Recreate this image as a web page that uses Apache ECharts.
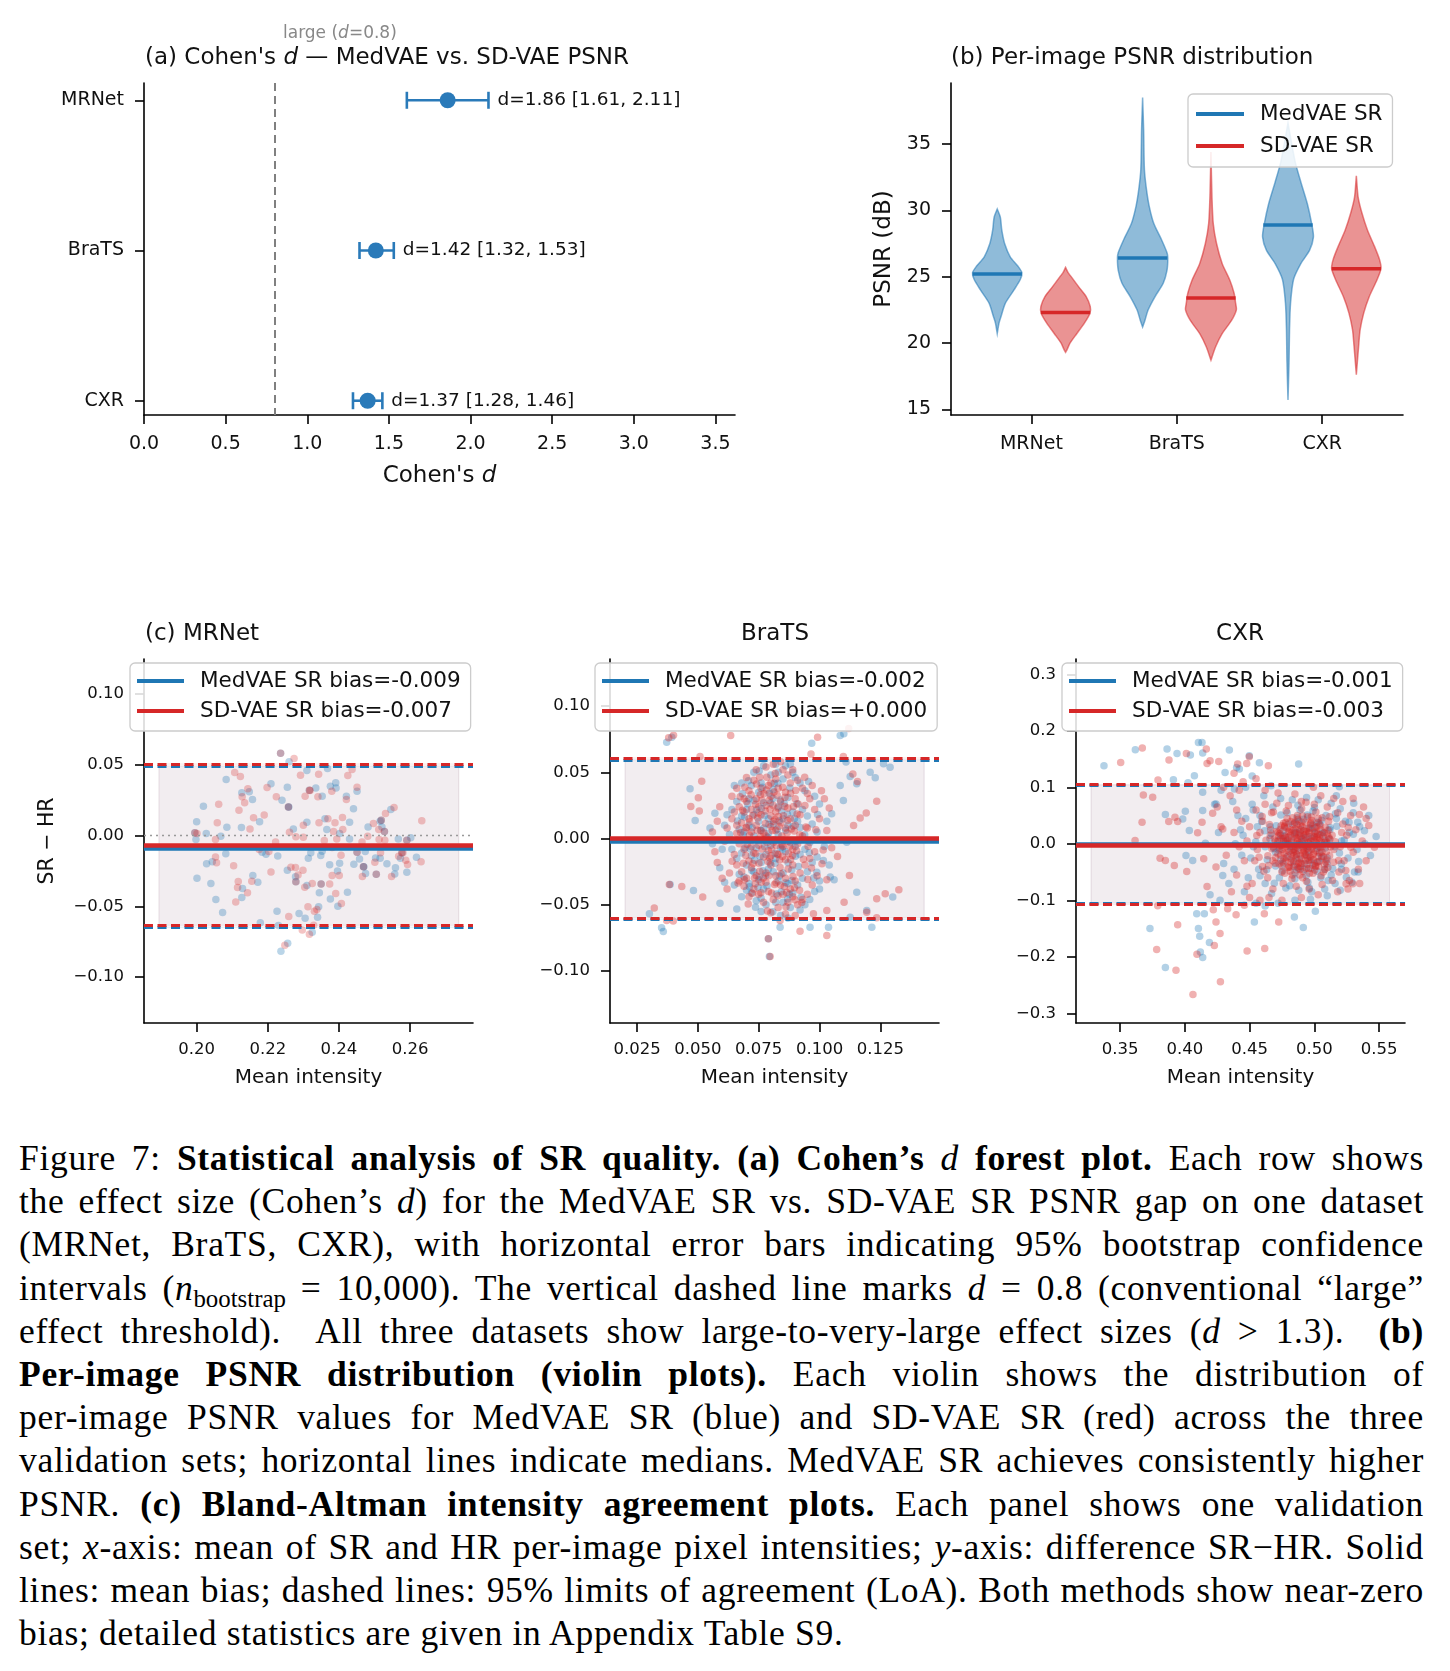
<!DOCTYPE html>
<html>
<head>
<meta charset="utf-8">
<script src="https://cdn.jsdelivr.net/npm/echarts@6/dist/echarts.min.js"></script>
<style>
  html, body { margin: 0; padding: 0; background: #fff; overflow: hidden; }
  #chart { position: absolute; left: 0; top: 0; width: 1450px; height: 1120px; }
  #caption { position: absolute; left: 19px; top: 1137px; width: 1405px;
    font-family: 'Liberation Serif', 'DejaVu Serif', serif; font-size: 35.5px; letter-spacing: 0.7px;
    line-height: 43.2px; color: #000; }
  #caption div { text-align: justify; text-align-last: justify; height: 43.2px; white-space: nowrap; }
  #caption div.last { text-align-last: left; }
  #caption sub { font-size: 0.7em; line-height: 0; vertical-align: -0.3em; letter-spacing: 0; }
</style>
</head>
<body>
<div id="chart"></div>
<div id="caption">
<div>Figure 7: <b>Statistical analysis of SR quality.</b> <b>(a) Cohen’s</b> <i>d</i> <b>forest plot.</b> Each row shows</div>
<div>the effect size (Cohen’s <i>d</i>) for the MedVAE SR vs. SD-VAE SR PSNR gap on one dataset</div>
<div>(MRNet, BraTS, CXR), with horizontal error bars indicating 95% bootstrap confidence</div>
<div>intervals (<i>n</i><sub>bootstrap</sub> = 10,000). The vertical dashed line marks <i>d</i> = 0.8 (conventional “large”</div>
<div>effect threshold). &nbsp;All three datasets show large-to-very-large effect sizes (<i>d</i> &gt; 1.3). &nbsp;<b>(b)</b></div>
<div><b>Per-image PSNR distribution (violin plots).</b> Each violin shows the distribution of</div>
<div>per-image PSNR values for MedVAE SR (blue) and SD-VAE SR (red) across the three</div>
<div>validation sets; horizontal lines indicate medians. MedVAE SR achieves consistently higher</div>
<div>PSNR. <b>(c) Bland-Altman intensity agreement plots.</b> Each panel shows one validation</div>
<div>set; <i>x</i>-axis: mean of SR and HR per-image pixel intensities; <i>y</i>-axis: difference SR−HR. Solid</div>
<div>lines: mean bias; dashed lines: 95% limits of agreement (LoA). Both methods show near-zero</div>
<div class="last">bias; detailed statistics are given in Appendix Table S9.</div>
</div>
<script>
var FONT = 'DejaVu Sans';
var BLUE = '#1f77b4', RED = '#d62728';

var datasets = ['MRNet', 'BraTS', 'CXR'];

// (a) Cohen's d forest plot
var cohenD  = [1.86, 1.42, 1.37];
var cohenLo = [1.61, 1.32, 1.28];
var cohenHi = [2.11, 1.53, 1.46];
var largeD = 0.8;
var cohenTicks = [0, 0.5, 1, 1.5, 2, 2.5, 3, 3.5];

// (b) violin profiles: [PSNR, relative density]
var psnrTicks = [15, 20, 25, 30, 35];
var medvaeMedian = [25.2, 26.4, 28.9];
var sdvaeMedian  = [22.3, 23.4, 25.6];
var medvaeViolin = [
  [[30.1,0],[29.5,0.12],[28.5,0.18],[27.5,0.29],[26.5,0.51],[25.8,0.81],[25.3,0.97],[24.8,0.91],[24.0,0.66],[23.0,0.32],[22.0,0.15],[21.5,0.07],[20.7,0]],
  [[38.5,0],[36.1,0.04],[33.1,0.07],[31.6,0.15],[30.3,0.26],[29.0,0.44],[27.8,0.74],[26.8,0.96],[26.4,0.99],[25.5,0.96],[24.5,0.81],[23.5,0.49],[22.5,0.22],[21.7,0.09],[21.2,0]],
  [[36.6,0],[35.3,0.12],[33.6,0.29],[32.1,0.51],[30.5,0.76],[29.0,0.93],[28.0,1.0],[27.0,0.85],[26.0,0.51],[24.8,0.22],[23.0,0.1],[21.0,0.06],[18.5,0.04],[15.7,0]]
];
var sdvaeViolin = [
  [[25.7,0],[25.3,0.1],[25.0,0.22],[24.25,0.51],[23.5,0.81],[22.75,0.97],[22.25,0.96],[21.5,0.74],[20.7,0.44],[20.0,0.18],[19.5,0.06],[19.3,0]],
  [[34.4,0],[31.0,0.04],[29.0,0.09],[27.5,0.22],[26.0,0.44],[24.75,0.74],[23.75,0.91],[23.0,0.97],[22.5,1.0],[21.7,0.81],[20.7,0.44],[19.7,0.18],[18.7,0]],
  [[32.6,0],[31.0,0.07],[29.8,0.22],[28.5,0.44],[27.3,0.71],[26.3,0.91],[25.6,0.97],[24.75,0.81],[23.5,0.51],[22.25,0.29],[21.0,0.15],[19.75,0.09],[17.6,0]]
];

// (c) Bland-Altman
var baTitles = ['(c) MRNet', 'BraTS', 'CXR'];
var baXTicks = [[0.20,0.22,0.24,0.26],[0.025,0.05,0.075,0.1,0.125],[0.35,0.4,0.45,0.5,0.55]];
var baYTicks = [[-0.1,-0.05,0,0.05,0.1],[-0.1,-0.05,0,0.05,0.1],[-0.3,-0.2,-0.1,0,0.1,0.2,0.3]];
var biasMed = [-0.009, -0.002, -0.001];
var biasSd  = [-0.007, 0.000, -0.003];
var loaMed = [[-0.065,0.049],[-0.0611,0.0594],[-0.1048,0.104]];
var loaSd  = [[-0.0634,0.0507],[-0.0598,0.0609],[-0.1077,0.1047]];
var bandX  = [[0.1894,0.2737],[0.0201,0.143],[0.3276,0.558]];

var mrnetMed = [
[0.2083,0.0396],[0.2019,0.0208],[0.2000,0.0097],[0.2027,0.0014],[0.1998,-0.0028],[0.2068,-0.0005],[0.2085,0.0059],[0.2127,0.0302],[0.2148,0.0309],[0.2157,0.0255],
[0.2126,0.0057],[0.2177,0.0097],[0.2209,0.0366],[0.2255,0.0342],[0.2240,0.0250],[0.2259,0.0201],[0.2272,0.0047],[0.2310,0.0460],[0.2310,0.0094],[0.2335,0.0337],
[0.2353,0.0278],[0.2368,0.0474],[0.2376,0.0349],[0.2391,0.0373],[0.2392,0.0337],[0.2421,0.0278],[0.2451,0.0314],[0.2441,0.0189],[0.2361,0.0118],[0.2366,0.0042],
[0.2402,0.0014],[0.2430,0.0094],[0.2430,-0.0024],[0.2482,0.0061],[0.2516,0.0101],[0.2521,0.0061],[0.2546,0.0184],[0.2567,-0.0024],[0.2602,-0.0016],[0.2535,-0.0200],
[0.2559,-0.0228],[0.2557,-0.0271],[0.2591,-0.0259],[0.2618,-0.0153],[0.2573,-0.0160],[0.2516,-0.0160],[0.2503,-0.0158],[0.2470,-0.0221],[0.2475,-0.0269],[0.2458,-0.0165],
[0.2442,-0.0203],[0.2474,-0.0113],[0.2402,-0.0195],[0.2374,-0.0207],[0.2396,-0.0250],[0.2321,-0.0122],[0.2314,-0.0160],[0.2349,-0.0141],[0.2353,-0.0111],[0.2228,-0.0144],
[0.2195,-0.0132],[0.2184,-0.0118],[0.2082,-0.0129],[0.2028,-0.0200],[0.2044,-0.0186],[0.2001,-0.0302],[0.2040,-0.0339],[0.2054,-0.0452],[0.2073,-0.0544],[0.2129,-0.0375],
[0.2127,-0.0438],[0.2158,-0.0283],[0.2172,-0.0330],[0.2226,-0.0535],[0.2255,-0.0245],[0.2278,-0.0292],[0.2310,-0.0353],[0.2345,-0.0405],[0.2343,-0.0504],[0.2340,-0.0577],
[0.2305,-0.0584],[0.2288,-0.0551],[0.2376,-0.0448],[0.2397,-0.0500],[0.2424,-0.0401],[0.2179,-0.0617],[0.2230,-0.0636],[0.2325,-0.0683],[0.2256,-0.0761],[0.2237,-0.0818],
[0.2260,0.0521]
];
var mrnetSd = [
[0.2107,0.0446],[0.2123,0.0417],[0.2062,0.0222],[0.2058,0.0090],[0.2128,0.0274],[0.2135,0.0231],[0.2144,0.0330],[0.2119,0.0179],[0.2160,0.0125],[0.2150,0.0047],
[0.2190,0.0146],[0.2198,0.0340],[0.2224,0.0274],[0.2274,0.0545],[0.2292,0.0427],[0.2305,0.0278],[0.2343,0.0434],[0.2341,0.0274],[0.2319,0.0318],[0.2344,0.0090],
[0.2300,0.0073],[0.2300,-0.0012],[0.2261,0.0024],[0.2279,-0.0009],[0.2369,0.0118],[0.2389,0.0090],[0.2410,0.0127],[0.2380,0.0314],[0.2421,0.0255],[0.2437,0.0467],
[0.2425,0.0424],[0.2451,0.0342],[0.2385,0.0028],[0.2411,0.0042],[0.2394,-0.0024],[0.2359,-0.0035],[0.2381,-0.0085],[0.2465,-0.0045],[0.2481,-0.0005],[0.2497,0.0085],
[0.2512,0.0042],[0.2531,0.0156],[0.2555,0.0198],[0.2529,-0.0033],[0.2513,-0.0028],[0.2633,0.0104],[0.2631,-0.0186],[0.2593,-0.0205],[0.2588,-0.0174],[0.2568,-0.0146],
[0.2580,-0.0122],[0.2517,-0.0122],[0.2501,-0.0188],[0.2466,-0.0290],[0.2548,-0.0290],[0.2381,-0.0283],[0.2401,-0.0283],[0.2406,-0.0139],[0.2391,-0.0410],[0.2407,-0.0481],
[0.2374,-0.0342],[0.2325,-0.0339],[0.2304,-0.0365],[0.2285,-0.0278],[0.2299,-0.0245],[0.2278,-0.0226],[0.2265,-0.0224],[0.2209,-0.0257],[0.2203,-0.0113],[0.2176,-0.0099],
[0.2222,-0.0045],[0.2104,-0.0214],[0.2053,-0.0151],[0.2056,-0.0193],[0.2053,-0.0028],[0.2001,0.0014],[0.2117,-0.0325],[0.2115,-0.0368],[0.2143,-0.0405],[0.2110,-0.0469],
[0.2155,-0.0323],[0.2259,-0.0573],[0.2313,-0.0504],[0.2331,-0.0535],[0.2338,-0.0523],[0.2329,-0.0634],[0.2297,-0.0667],[0.2317,-0.0697],[0.2248,-0.0775]
];
// points where both methods overlap (purple in the reference)
var mrnetBoth = [[0.1995,0.0019],[0.2317,0.0321],[0.2258,0.0201],[0.2279,-0.0327],[0.2350,-0.0342],[0.2519,0.0109],[0.2528,0.0028],
  [0.2451,-0.0118],[0.2469,-0.0221],[0.2505,-0.0273],[0.2591,-0.0033],[0.2577,-0.0122],[0.2236,0.0582]];

var bratsMed = [
[0.0372,0.0727],[0.0393,0.0765],[0.0968,0.0720],[0.1085,0.0778],[0.0468,0.0375],[0.0489,0.0136],[0.0301,-0.0568],[0.0351,-0.0674],[0.0358,-0.0701],[0.0386,-0.0347],
[0.0482,-0.0392],[0.1126,0.0468],[0.1153,0.0413],[0.1208,0.0501],[0.1229,0.0458],[0.1263,0.0564],[0.1290,0.0539],[0.1153,-0.0405],[0.1215,-0.0669],[0.1194,-0.0543],
[0.1301,-0.0442],[0.0794,-0.0890],[0.0790,-0.0757],[0.0838,-0.0669],[0.0961,-0.0669],[0.1037,-0.0669],[0.1126,-0.0593],[0.0660,-0.0531],[0.0591,-0.0488],[0.1098,0.0287],
[0.1109,0.0577],[0.1085,0.0400],[0.1050,0.0187],[0.1112,-0.0027],[0.1016,-0.0166],[0.0989,-0.0254],[0.1044,-0.0291],[0.1000,-0.0380],[0.1100,0.0790],
[0.0710,0.0300],[0.0730,0.0180],[0.0750,0.0350],[0.0770,0.0270],[0.0790,0.0150],[0.0810,0.0370],[0.0830,0.0240],[0.0850,0.0450],[0.0870,0.0310],[0.0890,0.0500],
[0.0860,0.0550],[0.0830,0.0500],[0.0800,0.0480],[0.0760,0.0420],[0.0720,0.0400],[0.0700,0.0220],[0.0680,0.0170],[0.0660,0.0280],[0.0640,0.0220],[0.0620,0.0180],
[0.0630,0.0030],[0.0670,0.0070],[0.0690,0.0050],[0.0710,0.0100],[0.0730,0.0020],[0.0750,0.0130],[0.0770,0.0080],[0.0790,0.0040],[0.0810,0.0110],[0.0830,0.0030],
[0.0850,0.0150],[0.0870,0.0100],[0.0890,0.0200],[0.0910,0.0130],[0.0930,0.0220],[0.0950,0.0170],[0.0970,0.0110],[0.0990,0.0050],[0.0960,-0.0030],[0.0940,-0.0080],
[0.0920,-0.0120],[0.0900,-0.0060],[0.0880,-0.0030],[0.0860,-0.0100],[0.0840,-0.0070],[0.0820,-0.0150],[0.0800,-0.0050],[0.0780,-0.0120],[0.0760,-0.0180],[0.0740,-0.0070],
[0.0720,-0.0130],[0.0700,-0.0200],[0.0680,-0.0110],[0.0660,-0.0150],[0.0640,-0.0080],[0.0670,-0.0270],[0.0690,-0.0290],[0.0710,-0.0340],[0.0730,-0.0250],[0.0750,-0.0310],
[0.0770,-0.0380],[0.0790,-0.0230],[0.0810,-0.0250],[0.0830,-0.0320],[0.0850,-0.0260],[0.0870,-0.0340],[0.0890,-0.0410],[0.0910,-0.0350],[0.0930,-0.0300],[0.0950,-0.0250],
[0.0970,-0.0180],[0.0990,-0.0140],[0.1000,-0.0320],[0.0980,-0.0400],[0.0960,-0.0460],[0.0940,-0.0500],[0.0920,-0.0540],[0.0880,-0.0520],[0.0850,-0.0480],[0.0820,-0.0480],
[0.0780,-0.0500],[0.0760,-0.0450],[0.0740,-0.0470],[0.0720,-0.0410],[0.0700,-0.0390],[0.0680,-0.0440],[0.0650,-0.0350],[0.0610,0.0100],[0.0600,-0.0080],[0.0650,0.0400],
[0.0680,0.0420],[0.0730,0.0500],[0.0770,0.0550],[0.0820,0.0560],[0.0880,0.0560],[0.0900,0.0460],[0.0920,0.0420],[0.0940,0.0360],[0.0980,0.0320],[0.1000,0.0260],
[0.1030,0.0130],[0.1020,-0.0060],[0.1040,-0.0200],[0.1060,-0.0310],[0.0840,-0.0580],[0.0870,-0.0600],[0.0760,-0.0550],[0.0550,0.0080],[0.0560,-0.0040],[0.0570,0.0190],
[0.0590,-0.0220],[0.0610,-0.0330],
[0.0723,0.0082],[0.0761,0.0227],[0.0798,0.0268],[0.0834,0.0132],[0.0868,0.0183],[0.0903,-0.0018],[0.0939,0.0029],[0.0722,-0.0241],[0.0779,-0.0279],[0.0843,-0.0402],
[0.0886,-0.0238],[0.0924,-0.0443],[0.0683,0.0339],[0.0752,0.0509],[0.0814,0.0417],[0.0878,0.0381],[0.0958,-0.0107],[0.0992,0.0181],[0.0747,-0.0367],[0.0808,-0.0553],
[0.0694,-0.0071],[0.0787,0.0009],[0.0852,-0.0017],[0.0817,-0.0187],[0.0907,0.0262],[0.0731,0.0287],[0.0663,0.0132],[0.0955,0.0431],[0.0869,-0.0456],[0.0756,-0.0133],
[0.0794,0.0341],[0.0839,0.0291],[0.0976,-0.0297],[0.0708,0.0436],[0.0892,0.0093],[0.0861,-0.0333],[0.0775,-0.0062],[0.0737,-0.0519],[0.0913,-0.0211],[0.0826,0.0071],
[0.0692,0.0162],[0.0715,-0.0077],[0.0741,0.0217],[0.0767,-0.0243],[0.0792,0.0106],[0.0818,-0.0111],[0.0844,0.0208],[0.0871,-0.0182],[0.0897,0.0152],[0.0733,-0.0163],
[0.0758,0.0061],[0.0784,-0.0357],[0.0809,0.0303],[0.0835,-0.0283],[0.0861,0.0062],[0.0887,-0.0317],[0.0705,0.0262],[0.0774,0.0172],[0.0823,-0.0418],[0.0855,0.0263],
[0.0901,-0.0133],[0.0752,-0.0291],[0.0797,-0.0183],[0.0848,-0.0081],[0.0712,-0.0363],[0.0766,0.0387],[0.0829,0.0417],[0.0876,-0.0421],[0.0921,0.0083],[0.0686,0.0026]
];
var bratsSd = [
[0.0509,0.0619],[0.0516,0.0433],[0.0471,0.0242],[0.0506,0.0207],[0.0502,0.0307],[0.0635,0.0778],[0.0992,0.0765],[0.0965,0.0639],[0.1098,0.0619],[0.1156,0.0431],
[0.1137,0.0488],[0.1235,0.0282],[0.1192,0.0192],[0.1167,0.0156],[0.1140,0.0099],[0.1074,-0.0135],[0.1123,-0.0279],[0.1101,-0.0480],[0.1235,-0.0455],[0.1270,-0.0417],
[0.1326,-0.0387],[0.1194,-0.0556],[0.1235,-0.0598],[0.1030,-0.0732],[0.0920,-0.0699],[0.0790,-0.0757],[0.0797,-0.0890],[0.0321,-0.0525],[0.0434,-0.0362],[0.0383,-0.0347],
[0.0520,-0.0442],[0.0372,-0.0618],[0.0399,-0.0623],[0.1030,-0.0543],[0.0975,-0.0568],[0.0838,-0.0618],[0.0400,0.0780],[0.0380,0.0760],[0.1120,0.0830],
[0.0700,0.0280],[0.0720,0.0220],[0.0740,0.0300],[0.0760,0.0180],[0.0780,0.0250],[0.0800,0.0320],[0.0820,0.0200],[0.0840,0.0280],[0.0860,0.0350],[0.0880,0.0420],
[0.0870,0.0480],[0.0850,0.0520],[0.0820,0.0450],[0.0790,0.0400],[0.0760,0.0380],[0.0730,0.0440],[0.0710,0.0360],[0.0690,0.0300],[0.0670,0.0240],[0.0650,0.0200],
[0.0640,0.0150],[0.0660,0.0100],[0.0680,0.0120],[0.0700,0.0080],[0.0720,0.0050],[0.0740,0.0100],[0.0760,0.0060],[0.0780,0.0020],[0.0800,0.0090],[0.0820,0.0060],
[0.0840,0.0120],[0.0860,0.0080],[0.0880,0.0150],[0.0900,0.0100],[0.0920,0.0180],[0.0940,0.0250],[0.0960,0.0300],[0.0980,0.0220],[0.1000,0.0150],[0.0950,0.0080],
[0.0930,0.0020],[0.0910,-0.0040],[0.0890,-0.0080],[0.0870,-0.0020],[0.0850,-0.0060],[0.0830,-0.0120],[0.0810,-0.0030],[0.0790,-0.0090],[0.0770,-0.0140],[0.0750,-0.0050],
[0.0730,-0.0110],[0.0710,-0.0170],[0.0690,-0.0080],[0.0670,-0.0040],[0.0650,-0.0120],[0.0660,-0.0200],[0.0680,-0.0250],[0.0700,-0.0300],[0.0720,-0.0220],[0.0740,-0.0280],
[0.0760,-0.0330],[0.0780,-0.0260],[0.0800,-0.0200],[0.0820,-0.0280],[0.0840,-0.0350],[0.0860,-0.0300],[0.0880,-0.0380],[0.0900,-0.0320],[0.0920,-0.0260],[0.0940,-0.0200],
[0.0960,-0.0150],[0.0980,-0.0100],[0.0990,-0.0280],[0.0970,-0.0350],[0.0950,-0.0420],[0.0930,-0.0460],[0.0910,-0.0500],[0.0890,-0.0440],[0.0870,-0.0480],[0.0850,-0.0420],
[0.0830,-0.0520],[0.0810,-0.0460],[0.0790,-0.0400],[0.0770,-0.0480],[0.0750,-0.0420],[0.0730,-0.0380],[0.0710,-0.0440],[0.0690,-0.0360],[0.0670,-0.0320],[0.0660,0.0040],
[0.0620,0.0080],[0.0610,-0.0020],[0.0630,-0.0260],[0.0640,0.0320],[0.0660,0.0380],[0.0700,0.0460],[0.0740,0.0520],[0.0780,0.0540],[0.0810,0.0560],[0.0840,0.0580],
[0.0890,0.0520],[0.0910,0.0440],[0.0930,0.0380],[0.0950,0.0340],[0.0970,0.0400],[0.1020,0.0300],[0.1040,0.0230],[0.1030,0.0060],[0.1050,-0.0070],[0.1010,-0.0190],
[0.1030,-0.0310],[0.0800,-0.0560],[0.0860,-0.0570],[0.0900,-0.0580],[0.0770,-0.0010],[0.0810,0.0130],[0.0750,0.0240],[0.0830,0.0380],[0.0870,0.0230],[0.0720,-0.0060],
[0.0800,-0.0130],[0.0860,-0.0160],[0.0780,-0.0330],[0.0890,-0.0200],[0.0710,0.0150],[0.0690,0.0200],[0.0800,0.0420],[0.0900,0.0300],[0.0560,0.0050],[0.0580,0.0130],
[0.0590,0.0240],[0.0570,-0.0100],[0.0580,-0.0180],[0.0600,-0.0300],[0.0620,-0.0380],
[0.0713,0.0127],[0.0748,0.0193],[0.0772,0.0338],[0.0806,0.0061],[0.0831,0.0167],[0.0857,0.0242],[0.0873,-0.0113],[0.0896,0.0057],[0.0912,0.0261],[0.0934,-0.0157],
[0.0953,-0.0058],[0.0727,-0.0188],[0.0754,-0.0247],[0.0788,-0.0173],[0.0815,-0.0347],[0.0838,-0.0219],[0.0865,-0.0407],[0.0891,-0.0286],[0.0918,-0.0391],[0.0697,-0.0127],
[0.0676,0.0046],[0.0665,-0.0336],[0.0693,0.0387],[0.0741,0.0411],[0.0783,0.0463],[0.0826,0.0327],[0.0849,0.0388],[0.0902,0.0362],[0.0944,0.0087],[0.0967,-0.0223],
[0.0985,0.0067],[0.1008,0.0361],[0.1015,-0.0087],[0.0797,0.0221],[0.0764,-0.0078],[0.0823,-0.0052],[0.0845,0.0019],[0.0778,0.0113],[0.0736,-0.0342],[0.0803,-0.0411],
[0.0862,-0.0514],[0.0927,-0.0483],[0.0707,-0.0493],[0.0744,0.0063],[0.0793,0.0289],[0.0881,-0.0159],[0.0737,0.0258],[0.0818,0.0491],[0.0869,0.0137],[0.0899,-0.0462],
[0.0952,-0.0309],[0.0754,0.0463],[0.0674,0.0316],[0.0641,-0.0172],[0.0829,-0.0431],[0.0786,-0.0547],[0.0939,0.0463],[0.0811,-0.0009],[0.0757,0.0014],[0.0848,-0.0135],
[0.0684,0.0213],[0.0702,-0.0043],[0.0719,0.0331],[0.0733,-0.0297],[0.0746,0.0156],[0.0759,-0.0409],[0.0771,0.0041],[0.0782,0.0367],[0.0796,-0.0147],[0.0809,0.0252],
[0.0821,-0.0333],[0.0833,0.0092],[0.0846,-0.0049],[0.0858,0.0311],[0.0871,-0.0229],[0.0884,0.0072],[0.0897,-0.0371],[0.0908,0.0186],[0.0687,-0.0187],[0.0712,0.0027],
[0.0738,-0.0113],[0.0763,0.0289],[0.0791,-0.0281],[0.0817,0.0143],[0.0842,-0.0267],[0.0867,0.0043],[0.0893,0.0241],[0.0725,0.0172],[0.0751,-0.0187],[0.0777,0.0208],
[0.0803,-0.0082],[0.0829,0.0231],[0.0855,-0.0361],[0.0881,0.0341],[0.0906,-0.0093],[0.0698,0.0083],[0.0724,-0.0412],[0.0769,-0.0297],[0.0813,0.0352],[0.0836,-0.0162],
[0.0878,-0.0058],[0.0919,0.0028],[0.0691,-0.0311],[0.0757,0.0331],[0.0801,0.0171],[0.0852,0.0172],[0.0889,-0.0127],[0.0742,-0.0011],[0.0784,-0.0031],[0.0826,-0.0116]
];

var cxrMed = [
[0.3376,0.1382],[0.3618,0.1664],[0.3863,0.1676],[0.3940,0.1600],[0.4105,0.1794],[0.4133,0.1794],[0.4138,0.1605],[0.4043,0.1570],[0.4344,0.1658],[0.4576,0.1435],
[0.4879,0.1411],[0.3912,0.1135],[0.4025,0.1082],[0.4074,0.1206],[0.4138,0.0911],[0.3850,0.0517],[0.3984,0.0441],[0.4004,0.0576],[0.4035,0.0235],[0.4138,0.0588],
[0.4241,0.0705],[0.4009,-0.0206],[0.4061,-0.0294],[0.4159,0.0011],[0.4293,-0.0559],[0.4195,-0.0900],[0.4272,-0.1000],[0.4151,-0.1235],[0.4092,-0.1235],[0.4105,-0.1500],
[0.4115,-0.1635],[0.4190,-0.1747],[0.4120,-0.1912],[0.4138,-0.2012],[0.3850,-0.2188],[0.3731,-0.1500],[0.4537,-0.1382],[0.4915,-0.1482],[0.4846,-0.1294],[0.5008,-0.1194],
[0.5193,0.1011],[0.5304,0.0717],[0.5335,0.0382],[0.5477,0.0129],[0.5433,-0.0206],[0.5338,-0.0500],[0.4311,0.1264],[0.4421,0.1323],[0.4498,0.1558],[0.4383,0.0970],
[0.4666,0.1029],
[0.474,0.015],[0.478,0.005],[0.482,-0.012],[0.486,0.020],[0.490,-0.002],[0.494,-0.020],[0.498,0.010],[0.502,-0.008],[0.506,0.018],[0.510,-0.025],
[0.470,-0.015],[0.476,-0.035],[0.480,0.035],[0.484,-0.040],[0.488,0.040],[0.492,-0.045],[0.496,0.028],[0.500,-0.035],[0.504,0.035],[0.508,-0.045],
[0.512,0.025],[0.516,-0.005],[0.466,0.030],[0.462,-0.005],[0.479,0.055],[0.489,0.060],[0.499,0.058],[0.509,0.050],[0.517,0.045],[0.485,-0.062],
[0.495,-0.068],[0.505,-0.060],[0.513,-0.055],[0.473,-0.060],
[0.452,0.070],[0.458,0.050],[0.461,0.085],[0.456,0.030],[0.453,-0.005],[0.457,-0.045],[0.462,-0.070],[0.449,-0.060],[0.447,0.045],[0.445,0.015],
[0.451,-0.025],[0.468,0.065],[0.474,0.080],[0.483,0.078],[0.494,0.082],[0.503,0.078],[0.513,0.072],[0.520,0.062],[0.524,0.040],[0.527,0.020],
[0.521,0.005],[0.526,-0.025],[0.521,-0.045],[0.516,-0.070],[0.508,-0.080],[0.498,-0.085],[0.488,-0.082],[0.478,-0.078],[0.467,-0.088],[0.530,0.055],
[0.535,0.030],[0.533,-0.010],[0.531,-0.050],[0.529,-0.068],[0.539,0.000],[0.542,0.050],[0.517,0.085],
[0.437,0.075],[0.441,0.050],[0.443,0.025],[0.439,0.000],[0.444,-0.020],[0.438,-0.045],[0.446,-0.085],[0.434,-0.070],[0.428,0.095],[0.423,0.070],
[0.426,0.020],[0.430,-0.035],[0.447,0.100],[0.452,0.120],[0.440,0.135],[0.455,-0.105],[0.462,-0.110],[0.472,-0.105],[0.485,-0.100],[0.497,-0.098],
[0.510,-0.092],[0.520,-0.082],
[0.4826,0.0101],[0.4862,-0.0182],[0.4897,0.0253],[0.4933,-0.0053],[0.4966,-0.0301],[0.5007,0.0184],[0.5043,-0.0173],[0.5078,0.0061],[0.4795,-0.0219],[0.4762,0.0241],
[0.4727,0.0063],[0.4701,-0.0392],[0.4845,0.0357],[0.4918,0.0437],[0.4985,0.0331],[0.5055,0.0412],[0.5121,0.0287],[0.4851,-0.0511],[0.4938,-0.0559],[0.5021,-0.0487],
[0.5098,-0.0352],[0.4668,0.0183],[0.4637,-0.0281],[0.4593,0.0393],[0.4581,-0.0563],[0.5163,0.0531],[0.5194,-0.0163],[0.5231,0.0067],[0.5268,0.0381],[0.5247,-0.0591],
[0.4741,0.0512],[0.4873,0.0681],[0.5001,0.0641],[0.4811,-0.0741],[0.4962,-0.0782],[0.5107,-0.0651],[0.4691,-0.0697],[0.4548,0.0037],[0.4528,0.0597],[0.5301,0.0171],
[0.5342,-0.0313],[0.5387,0.0232],[0.4906,0.0041],[0.4951,0.0133],[0.4871,-0.0072],[0.4778,0.0009],[0.5033,-0.0051],[0.4727,-0.0108],
[0.4811,-0.0053],[0.4848,0.0211],[0.4883,-0.0272],[0.4921,0.0102],[0.4958,-0.0119],[0.4992,0.0271],[0.5031,-0.0312],[0.5066,0.0203],[0.4773,0.0137],[0.4739,-0.0287],
[0.4867,0.0461],[0.4946,0.0512],[0.5019,0.0383],[0.4878,-0.0431],[0.4972,-0.0437],[0.5057,-0.0251],[0.5113,0.0091],[0.5142,-0.0443],[0.4706,0.0321],[0.4687,-0.0083],
[0.4657,0.0093],[0.4927,-0.0351],[0.4896,0.0131],[0.4836,-0.0298],[0.5084,-0.0072],[0.4753,-0.0477],[0.5173,0.0311],[0.5208,-0.0353],[0.4616,0.0233],[0.4632,-0.0457]
];
var cxrSd = [
[0.3505,0.1441],[0.3672,0.1694],[0.3878,0.1482],[0.4012,0.1600],[0.4166,0.1676],[0.4172,0.1423],[0.4195,0.1470],[0.4262,0.1458],[0.4408,0.1411],[0.4478,0.1423],
[0.4498,0.1541],[0.4645,0.1382],[0.3793,0.1129],[0.3680,0.0864],[0.3752,0.0823],[0.3670,0.0382],[0.3616,0.0058],[0.3876,0.0394],[0.3924,0.0470],[0.3945,0.0394],
[0.4099,0.0194],[0.4133,0.0382],[0.4215,0.0541],[0.4293,0.0264],[0.3809,-0.0253],[0.3850,-0.0294],[0.3919,-0.0382],[0.4015,-0.0488],[0.4146,-0.0265],[0.4241,-0.0412],
[0.3791,-0.1094],[0.3945,-0.1430],[0.3783,-0.1871],[0.3932,-0.2235],[0.4094,-0.1953],[0.4063,-0.2665],[0.4275,-0.2441],[0.4172,-0.0753],[0.4220,-0.1165],[0.4241,-0.1382],
[0.4272,-0.1588],[0.4228,-0.1800],[0.4481,-0.1894],[0.4617,-0.1853],[0.4614,-0.1235],[0.4725,-0.1382],[0.4460,-0.1088],[0.4396,-0.1253],[0.4331,-0.1147],[0.4936,0.0735],
[0.4993,0.1000],[0.5420,0.0323],[0.5464,-0.0059],[0.5348,0.0517],[0.5296,-0.0706],[0.5245,-0.0706],
[0.472,0.020],[0.476,0.010],[0.480,0.000],[0.484,-0.010],[0.488,0.015],[0.492,0.005],[0.496,-0.005],[0.500,0.012],[0.504,-0.015],[0.508,0.002],
[0.474,-0.020],[0.478,-0.030],[0.482,0.025],[0.486,-0.025],[0.490,-0.035],[0.494,0.022],[0.498,-0.028],[0.502,0.030],[0.506,-0.022],[0.510,0.018],
[0.470,0.005],[0.473,-0.008],[0.477,0.032],[0.481,-0.042],[0.485,0.038],[0.489,-0.045],[0.493,-0.018],[0.497,0.035],[0.501,-0.040],[0.505,0.025],
[0.509,-0.032],[0.512,0.008],[0.515,-0.010],[0.468,-0.030],[0.466,0.015],[0.479,0.045],[0.487,0.050],[0.495,0.048],[0.503,0.045],[0.511,0.040],
[0.483,-0.055],[0.491,-0.060],[0.499,-0.052],[0.507,-0.050],[0.475,-0.050],
[0.455,0.060],[0.460,0.040],[0.462,0.070],[0.458,0.020],[0.456,-0.010],[0.460,-0.040],[0.464,-0.060],[0.452,-0.070],[0.450,0.030],[0.448,0.005],
[0.454,-0.030],[0.467,0.055],[0.471,0.072],[0.480,0.068],[0.490,0.075],[0.500,0.070],[0.510,0.065],[0.518,0.055],[0.522,0.035],[0.525,0.015],
[0.520,-0.005],[0.523,-0.030],[0.519,-0.050],[0.514,-0.065],[0.506,-0.072],[0.496,-0.080],[0.486,-0.075],[0.476,-0.070],[0.468,-0.080],[0.528,0.050],
[0.532,0.025],[0.530,-0.015],[0.534,-0.045],[0.527,-0.065],[0.537,0.005],[0.540,0.045],[0.515,0.080],[0.505,0.085],[0.485,0.088],[0.472,0.090],
[0.462,0.095],
[0.435,0.085],[0.440,0.060],[0.444,0.040],[0.438,0.020],[0.442,-0.005],[0.446,-0.030],[0.440,-0.055],[0.448,-0.075],[0.436,-0.085],[0.430,0.100],
[0.425,0.065],[0.428,0.030],[0.432,-0.020],[0.445,0.110],[0.455,0.115],[0.438,0.125],[0.442,0.095],[0.450,-0.095],[0.458,-0.100],[0.465,-0.095],
[0.475,-0.100],[0.490,-0.095],[0.503,-0.090],[0.518,-0.085],[0.535,-0.070],[0.538,0.065],[0.530,0.080],[0.522,0.075],[0.526,-0.080],[0.540,-0.030],
[0.4812,0.0031],[0.4837,-0.0147],[0.4868,0.0092],[0.4893,-0.0212],[0.4917,0.0153],[0.4946,-0.0083],[0.4972,0.0047],[0.4995,-0.0167],[0.5023,0.0081],[0.5047,-0.0061],
[0.4783,-0.0112],[0.4758,0.0137],[0.4731,-0.0043],[0.4709,0.0219],[0.4851,0.0263],[0.4879,-0.0338],[0.4907,0.0307],[0.4933,-0.0293],[0.4962,0.0196],[0.4988,-0.0381],
[0.5014,0.0224],[0.5041,-0.0304],[0.5068,0.0132],[0.5093,-0.0141],[0.4823,-0.0269],[0.4797,0.0211],[0.4766,-0.0257],[0.4744,0.0318],[0.4719,-0.0176],[0.4691,0.0087],
[0.4672,-0.0087],[0.4864,-0.0457],[0.4912,-0.0491],[0.4957,-0.0436],[0.5003,-0.0462],[0.4819,0.0397],[0.4873,0.0431],[0.4929,0.0383],[0.4981,0.0412],[0.5032,0.0371],
[0.5083,0.0293],[0.5118,-0.0212],[0.5137,0.0151],[0.5104,-0.0419],[0.4803,-0.0403],[0.4751,-0.0391],[0.4699,-0.0342],[0.4653,0.0341],[0.4641,-0.0213],[0.4627,0.0063],
[0.4856,-0.0063],[0.4885,0.0017],[0.4921,-0.0128],[0.4969,-0.0232],[0.4893,0.0182],[0.4846,0.0133],[0.4938,0.0261],[0.5006,-0.0026],[0.4789,-0.0003],[0.4772,-0.0521],
[0.4827,-0.0617],[0.4939,-0.0663],[0.5052,-0.0567],[0.5162,0.0038],[0.5187,-0.0297],[0.5211,0.0202],[0.5243,-0.0473],[0.4597,0.0483],[0.4611,-0.0487],[0.4573,-0.0238],
[0.4556,0.0149],[0.4684,0.0562],[0.4783,0.0581],[0.4902,0.0623],[0.5012,0.0562],[0.5118,0.0481],[0.5262,0.0291],[0.5281,-0.0062],
[0.4803,0.0122],[0.4828,-0.0052],[0.4851,0.0178],[0.4876,-0.0121],[0.4902,0.0087],[0.4927,-0.0196],[0.4951,0.0032],[0.4978,-0.0098],[0.5002,0.0201],[0.5029,-0.0223],
[0.5054,0.0027],[0.4742,-0.0031],[0.4768,-0.0172],[0.4791,0.0282],[0.4817,-0.0327],[0.4842,-0.0212],[0.4866,0.0341],[0.4891,-0.0402],[0.4917,0.0233],[0.4943,-0.0361],
[0.4967,0.0282],[0.4993,-0.0283],[0.5019,0.0127],[0.5044,0.0162],[0.5071,-0.0233],[0.5096,0.0021],[0.4722,0.0142],[0.4701,-0.0242],[0.4756,-0.0323],[0.4812,-0.0483],
[0.4887,-0.0553],[0.4962,-0.0521],[0.5031,-0.0397],[0.5082,-0.0453],[0.4833,0.0462],[0.4908,0.0497],[0.4977,0.0473],[0.5061,0.0461],[0.4779,0.0378],[0.4858,-0.0003],
[0.4882,0.0263],[0.4933,0.0108],[0.4958,-0.0163],[0.4986,0.0132],[0.5013,-0.0121],[0.4897,-0.0267],[0.4848,-0.0373],[0.4805,-0.0137],[0.4838,0.0237],[0.4926,-0.0023],
[0.4871,0.0052],[0.4953,-0.0292],[0.4999,0.0063],[0.5037,0.0057],[0.4912,-0.0087],[0.4864,-0.0187],[0.4795,0.0071],[0.4737,0.0253],[0.4761,0.0043],[0.5107,0.0241],
[0.5126,-0.0053],[0.5149,-0.0327],[0.4682,-0.0057],[0.4663,0.0243],[0.4647,-0.0383],
[0.4716,0.0041],[0.4734,0.0183],[0.4752,-0.0097],[0.4769,0.0297],[0.4787,-0.0236],[0.4806,0.0213],[0.4824,0.0017],[0.4841,-0.0312],[0.4859,0.0107],[0.4877,-0.0027],
[0.4894,0.0318],[0.4913,-0.0157],[0.4931,0.0169],[0.4949,-0.0247],[0.4967,0.0083],[0.4986,-0.0052],[0.5004,0.0293],[0.5022,-0.0327],[0.5041,0.0103],[0.5059,-0.0143],
[0.5077,0.0197],[0.5095,-0.0287],[0.5112,0.0117],[0.4728,-0.0353],[0.4763,0.0362],[0.4798,-0.0421],[0.4834,0.0342],[0.4869,-0.0412],[0.4904,0.0382],[0.4939,-0.0431],
[0.4974,0.0367],[0.5009,-0.0387],[0.5044,0.0327],[0.5079,-0.0367],[0.4745,0.0093],[0.4781,-0.0047],[0.4816,0.0152],[0.4851,-0.0127],[0.4886,0.0211],[0.4921,-0.0063],
[0.4956,0.0227],[0.4991,-0.0187],[0.5026,0.0173],[0.5061,-0.0041],[0.4892,-0.0333],[0.4958,0.0012],[0.4822,-0.0183],[0.5016,0.0011],[0.4776,0.0112],[0.5089,0.0052]
];

var baMed = [mrnetMed.concat(mrnetBoth), bratsMed, cxrMed];
var baSd  = [mrnetSd.concat(mrnetBoth), bratsSd, cxrSd];

function fmt(v, n) {
  return (v < 0 ? '\u2212' : '') + Math.abs(v).toFixed(n);
}

var chart = echarts.init(document.getElementById('chart'));

function axisBase(fontSize, margin) {
  return {
    axisLine: { show: true, onZero: false, lineStyle: { color: '#000', width: 1.6 } },
    axisTick: { show: true, length: 9, lineStyle: { color: '#000', width: 1.6 } },
    splitLine: { show: false },
    axisLabel: { color: '#111', fontSize: fontSize, fontFamily: FONT, margin: margin }
  };
}
function withTicks(base, ticks, formatter) {
  base.axisTick.customValues = ticks;
  base.axisLabel.customValues = ticks;
  base.axisLabel.formatter = formatter;
  return base;
}

// ---- axes ----
var xA = withTicks(axisBase(19, 20), cohenTicks, function (v) { return v.toFixed(1); });
xA.gridIndex = 0; xA.type = 'value'; xA.min = 0; xA.max = 3.62;
xA.name = "Cohen's {i|d}"; xA.nameLocation = 'middle'; xA.nameGap = 50;
xA.nameTextStyle = { fontSize: 23, fontFamily: FONT, color: '#111',
  rich: { i: { fontStyle: 'italic', fontSize: 23, fontFamily: FONT, color: '#111' } } };

var yA = withTicks(axisBase(19, 20), [0, 1, 2], function (v) { return datasets[Math.round(v)]; });
yA.gridIndex = 0; yA.type = 'value'; yA.min = -0.115; yA.max = 2.095; yA.inverse = true;

var xB = withTicks(axisBase(19, 20), [0, 1, 2], function (v) { return datasets[Math.round(v)]; });
xB.gridIndex = 1; xB.type = 'value'; xB.min = -0.553; xB.max = 2.556;

var yB = withTicks(axisBase(19, 20), psnrTicks, function (v) { return String(v); });
yB.gridIndex = 1; yB.type = 'value'; yB.min = 14.57; yB.max = 39.6;
yB.name = 'PSNR (dB)'; yB.nameLocation = 'middle'; yB.nameGap = 55;
yB.nameTextStyle = { fontSize: 23, fontFamily: FONT, color: '#111' };

var baXRange = [[0.1852, 0.2777], [0.0139, 0.1491], [0.316, 0.570]];
var baYRange = [[-0.1325, 0.1248], [-0.1392, 0.1355], [-0.317, 0.327]];
var baXDec = [2, 3, 2], baYDec = [2, 2, 1];
var baLeft = [144, 610, 1076];
var medAlpha = [0.38, 0.42, 0.42], sdAlpha = [0.34, 0.45, 0.45];

var xAxes = [xA, xB], yAxes = [yA, yB];
var grids = [
  { left: 144, top: 83, width: 591, height: 332 },
  { left: 951, top: 83, width: 452, height: 332 }
];
for (var i = 0; i < 3; i++) {
  grids.push({ left: baLeft[i], top: 659, width: 329, height: 364 });
  (function (i) {
    var xa = withTicks(axisBase(16.5, 18), baXTicks[i], function (v) { return fmt(v, baXDec[i]); });
    xa.gridIndex = 2 + i; xa.type = 'value'; xa.min = baXRange[i][0]; xa.max = baXRange[i][1];
    xa.name = 'Mean intensity'; xa.nameLocation = 'middle'; xa.nameGap = 45;
    xa.nameTextStyle = { fontSize: 20, fontFamily: FONT, color: '#111' };
    var ya = withTicks(axisBase(16.5, 20), baYTicks[i], function (v) { return fmt(v, baYDec[i]); });
    ya.gridIndex = 2 + i; ya.type = 'value'; ya.min = baYRange[i][0]; ya.max = baYRange[i][1];
    if (i === 0) {
      ya.name = 'SR \u2212 HR'; ya.nameLocation = 'middle'; ya.nameGap = 86;
      ya.nameTextStyle = { fontSize: 20.5, fontFamily: FONT, color: '#111' };
    }
    xAxes.push(xa); yAxes.push(ya);
  })(i);
}

// ---- series ----
var FOREST = '#2a7ab9';
function renderForest(params, api) {
  var y = api.value(0), d = api.value(1), lo = api.value(2), hi = api.value(3);
  var pLo = api.coord([lo, y]), pHi = api.coord([hi, y]), pD = api.coord([d, y]);
  var cap = 8.5;
  var st = { stroke: FOREST, lineWidth: 2.6 };
  return {
    type: 'group',
    children: [
      { type: 'line', shape: { x1: pLo[0], y1: pLo[1], x2: pHi[0], y2: pHi[1] }, style: st },
      { type: 'line', shape: { x1: pLo[0], y1: pLo[1] - cap, x2: pLo[0], y2: pLo[1] + cap }, style: st },
      { type: 'line', shape: { x1: pHi[0], y1: pHi[1] - cap, x2: pHi[0], y2: pHi[1] + cap }, style: st },
      { type: 'circle', shape: { cx: pD[0], cy: pD[1], r: 8 }, style: { fill: FOREST } },
      { type: 'text', x: pHi[0] + 9, y: pD[1], style: {
          text: 'd=' + d.toFixed(2) + ' [' + lo.toFixed(2) + ', ' + hi.toFixed(2) + ']',
          fill: '#111', fontSize: 18.5, fontFamily: FONT, align: 'left', verticalAlign: 'middle' } }
    ]
  };
}

function makeViolin(profiles, offset, fill, stroke, color) {
  var half = 0.175;
  return function (params, api) {
    var c = Math.round(api.value(0)), med = api.value(1);
    var prof = profiles[c], cx = c + offset;
    var pts = [];
    for (var k = 0; k < prof.length; k++) pts.push(api.coord([cx + prof[k][1] * half, prof[k][0]]));
    for (var k2 = prof.length - 1; k2 >= 0; k2--) pts.push(api.coord([cx - prof[k2][1] * half, prof[k2][0]]));
    var m1 = api.coord([cx - half * 0.97, med]), m2 = api.coord([cx + half * 0.97, med]);
    return {
      type: 'group',
      children: [
        { type: 'polygon', shape: { points: pts, smooth: 0.25 }, style: { fill: fill, stroke: stroke, lineWidth: 1.5 } },
        { type: 'line', shape: { x1: m1[0], y1: m1[1], x2: m2[0], y2: m2[1] }, style: { stroke: color, lineWidth: 3.5 } }
      ]
    };
  };
}

var series = [
  {
    type: 'custom', name: 'forest', xAxisIndex: 0, yAxisIndex: 0,
    renderItem: renderForest, encode: { x: [1, 2, 3], y: 0 },
    data: datasets.map(function (n, i) { return [i, cohenD[i], cohenLo[i], cohenHi[i]]; }),
    markLine: { silent: true, symbol: 'none', precision: 6, label: { show: false },
      lineStyle: { color: '#808080', width: 2, type: [8, 5] }, data: [{ xAxis: largeD }] }
  },
  {
    type: 'custom', name: 'MedVAE SR', xAxisIndex: 1, yAxisIndex: 1, color: BLUE,
    renderItem: makeViolin(medvaeViolin, -0.235, 'rgba(31,119,180,0.5)', 'rgba(31,119,180,0.55)', BLUE),
    encode: { x: 0, y: 1 },
    data: datasets.map(function (n, i) { return [i, medvaeMedian[i]]; })
  },
  {
    type: 'custom', name: 'SD-VAE SR', xAxisIndex: 1, yAxisIndex: 1, color: RED,
    renderItem: makeViolin(sdvaeViolin, 0.235, 'rgba(214,39,40,0.5)', 'rgba(214,39,40,0.55)', RED),
    encode: { x: 0, y: 1 },
    data: datasets.map(function (n, i) { return [i, sdvaeMedian[i]]; })
  }
];

var medNames = [], sdNames = [];
for (var p = 0; p < 3; p++) {
  var mName = 'MedVAE SR bias=' + (biasMed[p] >= 0 ? '+' : '-') + Math.abs(biasMed[p]).toFixed(3);
  var sName = 'SD-VAE SR bias=' + (biasSd[p] >= 0 ? '+' : '-') + Math.abs(biasSd[p]).toFixed(3);
  medNames.push(mName); sdNames.push(sName);
  series.push({
    type: 'scatter', name: mName, xAxisIndex: 2 + p, yAxisIndex: 2 + p,
    symbolSize: 7.5, itemStyle: { color: 'rgba(31,119,180,' + medAlpha[p] + ')' }, data: baMed[p],
    markArea: { silent: true, itemStyle: { color: 'rgba(31,119,180,0.05)', borderColor: 'rgba(31,119,180,0.08)', borderWidth: 1 },
      data: [[{ xAxis: bandX[p][0], yAxis: loaMed[p][0] }, { xAxis: bandX[p][1], yAxis: loaMed[p][1] }]] },
    markLine: { silent: true, symbol: 'none', precision: 6, label: { show: false },
      data: [
        { yAxis: 0, lineStyle: { color: '#999', width: 1.4, type: [2, 4] } },
        { yAxis: loaMed[p][0], lineStyle: { color: BLUE, width: 3, type: [9, 4.5] } },
        { yAxis: loaMed[p][1], lineStyle: { color: BLUE, width: 3, type: [9, 4.5] } },
        { yAxis: biasMed[p], lineStyle: { color: BLUE, width: 4.5, type: 'solid' } }
      ] }
  });
  series.push({
    type: 'scatter', name: sName, xAxisIndex: 2 + p, yAxisIndex: 2 + p,
    symbolSize: 7.5, itemStyle: { color: 'rgba(214,39,40,' + sdAlpha[p] + ')' }, data: baSd[p],
    markArea: { silent: true, itemStyle: { color: 'rgba(214,39,40,0.05)', borderColor: 'rgba(214,39,40,0.08)', borderWidth: 1 },
      data: [[{ xAxis: bandX[p][0], yAxis: loaSd[p][0] }, { xAxis: bandX[p][1], yAxis: loaSd[p][1] }]] },
    markLine: { silent: true, symbol: 'none', precision: 6, label: { show: false },
      data: [
        { yAxis: loaSd[p][0], lineStyle: { color: RED, width: 3, type: [9, 4.5] } },
        { yAxis: loaSd[p][1], lineStyle: { color: RED, width: 3, type: [9, 4.5] } },
        { yAxis: biasSd[p], lineStyle: { color: RED, width: 4.5, type: 'solid' } }
      ] }
  });
}

// ---- legends ----
function legendBox(left, top, names, itemGap, padding, itemWidth) {
  return {
    orient: 'vertical', left: left, top: top, selectedMode: false,
    itemWidth: itemWidth, itemHeight: 4, itemGap: itemGap, padding: padding,
    backgroundColor: 'rgba(255,255,255,0.85)', borderColor: '#cccccc', borderWidth: 1.3, borderRadius: 5,
    textStyle: { fontSize: 21.5, fontFamily: FONT, color: '#111', padding: [0, 0, 0, 11] },
    data: [
      { name: names[0], icon: 'rect', itemStyle: { color: BLUE, opacity: 1 } },
      { name: names[1], icon: 'rect', itemStyle: { color: RED, opacity: 1 } }
    ]
  };
}
var legends = [legendBox(1188, 94, ['MedVAE SR', 'SD-VAE SR'], 10, [9, 10, 10, 8], 48)];
for (var q = 0; q < 3; q++) {
  legends.push(legendBox([130, 595, 1062][q], 663, [medNames[q], sdNames[q]], 8, [7, 10, 9, 7], 47));
}

var titleStyle = { fontSize: 23, fontWeight: 'normal', fontFamily: FONT, color: '#111' };
function tStyle(extra) { var o = {}; for (var k in titleStyle) o[k] = titleStyle[k]; for (var e in extra) o[e] = extra[e]; return o; }

chart.setOption({
  animation: false,
  backgroundColor: '#fff',
  title: [
    { text: "(a) Cohen's {i|d} \u2014 MedVAE vs. SD-VAE PSNR", left: 145, top: 47, padding: 0,
      textStyle: tStyle({ rich: { i: { fontStyle: 'italic', fontSize: 23, fontFamily: FONT, color: '#111' } } }) },
    { text: '(b) Per-image PSNR distribution', left: 951, top: 47, padding: 0, textStyle: tStyle({}) },
    { text: baTitles[0], left: 145, top: 623, padding: 0, textStyle: tStyle({}) },
    { text: baTitles[1], left: 775, top: 623, padding: 0, textAlign: 'center', textStyle: tStyle({}) },
    { text: baTitles[2], left: 1240, top: 623, padding: 0, textAlign: 'center', textStyle: tStyle({}) }
  ],
  graphic: [
    { type: 'text', left: 283, top: 25, silent: true,
      style: { text: 'large ({i|d}=0.8)', fill: '#888', fontSize: 17, fontFamily: FONT,
        rich: { i: { fontStyle: 'italic', fontSize: 17, fontFamily: FONT, fill: '#888' } } } }
  ],
  legend: legends,
  grid: grids,
  xAxis: xAxes,
  yAxis: yAxes,
  series: series
});
</script>
</body>
</html>
